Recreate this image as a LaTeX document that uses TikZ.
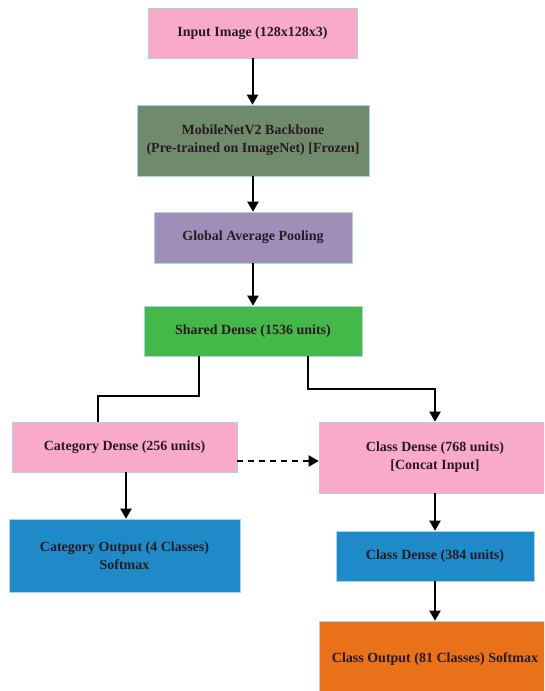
\documentclass[tikz,border=0pt]{standalone}
\usepackage{fontspec}
\setmainfont{Liberation Serif}
\usetikzlibrary{arrows.meta}
\definecolor{pinkbox}{HTML}{F9AAC9}
\definecolor{greybox}{HTML}{6F8B6B}
\definecolor{lavbox}{HTML}{A08DB8}
\definecolor{greenbox}{HTML}{44B848}
\definecolor{bluebox}{HTML}{1E8AC8}
\definecolor{orangebox}{HTML}{E8711A}
\definecolor{edgeblue}{HTML}{A8D4EA}
\definecolor{textdark}{HTML}{2A1A22}
\begin{document}
\begin{tikzpicture}[x=1pt,y=-1pt,
  box/.style={rectangle, draw=edgeblue, line width=0.6pt, inner sep=0pt, align=center,
    font=\fontsize{14}{18}\selectfont\bfseries, text=textdark},
  arr/.style={line width=2pt, -{Triangle[width=11pt,length=10pt]}},
  ln/.style={line width=2pt}]
\useasboundingbox (0,0) rectangle (544,691);
\clip (0,0) rectangle (544,691);
\fill[white] (0,0) rectangle (544,691);

\node[box, fill=pinkbox, minimum width=209pt, minimum height=50pt] (inp) at (252.5,33) {Input Image (128x128x3)};
\node[box, fill=greybox, minimum width=232pt, minimum height=71pt] (mob) at (253,140.5) {MobileNetV2 Backbone\\(Pre-trained on ImageNet) [Frozen]};
\node[box, fill=lavbox, minimum width=198pt, minimum height=51pt] (gap) at (253,237.5) {Global Average Pooling};
\node[box, fill=greenbox, minimum width=218pt, minimum height=50pt] (shared) at (253,331) {Shared Dense (1536 units)};
\node[box, fill=pinkbox, minimum width=225pt, minimum height=50pt] (catd) at (124.5,447) {Category Dense (256 units)};
\node[box, fill=pinkbox, minimum width=232pt, minimum height=71pt] (clsd) at (435,457.5) {Class Dense (768 units)\\{}[Concat Input]};
\node[box, fill=bluebox, minimum width=231pt, minimum height=73pt] (catout) at (124.5,555.5) {Category Output (4 Classes)\\Softmax};
\node[box, fill=bluebox, minimum width=198pt, minimum height=50pt] (cls384) at (435,556) {Class Dense (384 units)};
\node[box, fill=orangebox, minimum width=232pt, minimum height=76pt] (clsout) at (435,659) {Class Output (81 Classes) Softmax};

\draw[arr] (inp.south) -- (inp.south |- mob.north);
\draw[arr] (mob.south) -- (mob.south |- gap.north);
\draw[arr] (gap.south) -- (gap.south |- shared.north);
\draw[ln] ([xshift=-54pt]shared.south) -- ++(0,40) -| ([xshift=-27pt]catd.north);
\draw[arr] ([xshift=55pt]shared.south) -- ++(0,33) -| (clsd.north);
\draw[arr, dash pattern=on 6pt off 5pt] ([yshift=-14pt]catd.east) -- ([yshift=-14pt]catd.east -| clsd.west);
\draw[arr] ([xshift=1.5pt]catd.south) -- ([xshift=1.5pt]catout.north);
\draw[arr] (clsd.south) -- (cls384.north);
\draw[arr] (cls384.south) -- (clsout.north);
\end{tikzpicture}
\end{document}
